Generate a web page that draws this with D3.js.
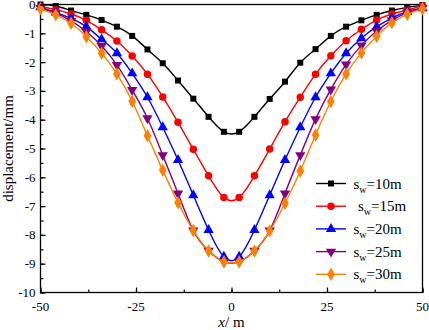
<!DOCTYPE html>
<meta charset="utf-8">
<body style="margin:0;background-color:white;">
<svg width="429" height="330"></svg>
<script src="https://cdn.jsdelivr.net/npm/d3@7"></script>
<script>

// x positions of the measuring points (m)
var xs = [-50, -46, -42, -38, -34, -30, -26, -22, -18, -14, -10, -6, -2,
          2, 6, 10, 14, 18, 22, 26, 30, 34, 38, 42, 46, 50];

// displacement (mm) for each well depth
var sw10 = [0, -0.05, -0.21, -0.36, -0.54, -0.77, -1.09, -1.56, -2.04, -2.64, -3.27, -3.9, -4.42,
            -4.42, -3.9, -3.28, -2.68, -2.02, -1.55, -1.09, -0.77, -0.55, -0.36, -0.21, -0.1, -0.02];
var sw15 = [-0.07, -0.18, -0.33, -0.55, -0.88, -1.27, -1.79, -2.42, -3.21, -4.09, -5.03, -5.95, -6.7,
            -6.7, -5.95, -5.02, -4.07, -3.22, -2.42, -1.78, -1.26, -0.86, -0.54, -0.33, -0.19, -0.05];
var sw20 = [-0.1, -0.28, -0.48, -0.77, -1.21, -1.69, -2.39, -3.22, -4.26, -5.4, -6.62, -7.83, -8.76,
            -8.76, -7.83, -6.62, -5.4, -4.26, -3.22, -2.39, -1.69, -1.17, -0.77, -0.47, -0.25, -0.13];
var sw25 = [-0.12, -0.3, -0.57, -0.94, -1.44, -2.1, -2.97, -3.95, -5.23, -6.56, -7.85, -8.55, -8.93,
            -8.93, -8.55, -7.85, -6.56, -5.23, -3.98, -2.95, -2.08, -1.42, -0.92, -0.55, -0.28, -0.12];
var sw30 = [-0.15, -0.36, -0.65, -1.12, -1.69, -2.41, -3.36, -4.56, -5.75, -6.88, -7.85, -8.56, -8.93,
            -8.93, -8.56, -7.86, -6.9, -5.78, -4.53, -3.37, -2.41, -1.68, -1.1, -0.63, -0.34, -0.15];

var seriesNames = ["10m", "15m", "20m", "25m", "30m"];
var seriesVals = [sw10, sw15, sw20, sw25, sw30];
var colors = ["#000000", "#ff0000", "#0000ff", "#800080", "#ff8000"];
var symbols = [d3.symbolSquare, d3.symbolCircle, d3.symbolTriangle, d3.symbolTriangle, d3.symbolDiamond];
var symSize = [36, 44, 46, 46, 52];
var symRot = [0, 0, 0, 180, 0];

var xTicks = [-50, -25, 0, 25, 50];
var yTicks = [0, -1, -2, -3, -4, -5, -6, -7, -8, -9, -10];

var svg = d3.select("svg");
var pLeft = 40.5, pRight = 422.5, pTop = 4.5, pBottom = 292.5;

var x = d3.scaleLinear().domain([-50, 50]).range([pLeft, pRight]);
var y = d3.scaleLinear().domain([-10, 0]).range([pBottom, pTop]);

var font = "'Liberation Serif', 'Times New Roman', serif";

// frame
svg.append("rect")
   .attr("x", pLeft).attr("y", pTop)
   .attr("width", pRight - pLeft).attr("height", pBottom - pTop)
   .attr("fill", "none").attr("stroke", "#000").attr("stroke-width", 1.3);

var plot = svg.append("g");

var line = d3.line()
             .x(function(d) { return x(d[0]); })
             .y(function(d) { return y(d[1]); })
             .curve(d3.curveNatural);

seriesVals.forEach(function(vals, i) {
	var pts = xs.map(function(v, k) { return [v, vals[k]]; });
	plot.append("path")
	    .attr("d", line(pts))
	    .attr("fill", "none")
	    .attr("stroke", colors[i])
	    .attr("stroke-width", 1.4);
	var sym = d3.symbol().type(symbols[i]).size(symSize[i]);
	plot.selectAll(null).data(pts).enter().append("path")
	    .attr("d", sym)
	    .attr("fill", colors[i])
	    .attr("transform", function(d) {
	    	return "translate(" + x(d[0]) + "," + y(d[1]) + ")rotate(" + symRot[i] + ")";
	    });
});

// y axis (ticks inside)
var yAxis = svg.append("g").attr("transform", "translate(" + pLeft + ",0)");
yAxis.call(d3.axisRight(y).tickValues(d3.range(-10, 0.01, 0.5)).tickSize(3).tickFormat(""));
yAxis.selectAll(".domain").remove();
var yMajor = svg.append("g").attr("transform", "translate(" + pLeft + ",0)");
yMajor.call(d3.axisRight(y).tickValues(yTicks).tickSize(5).tickFormat(""));
yMajor.selectAll(".domain").remove();
svg.selectAll(".tick line").attr("stroke", "#000").attr("stroke-width", 1.2);
svg.selectAll(null).data(yTicks).enter().append("text")
   .attr("x", pLeft - 5)
   .attr("y", function(d) { return y(d) + 4.5; })
   .attr("text-anchor", "end")
   .style("font-family", font).style("font-size", "13px")
   .text(function(d) { return d === 0 ? "0" : "-" + Math.abs(d); });

// x axis (ticks inside)
var xAxis = svg.append("g").attr("transform", "translate(0," + pBottom + ")");
xAxis.call(d3.axisTop(x).tickValues(d3.range(-50, 50.01, 12.5)).tickSize(3).tickFormat(""));
xAxis.selectAll(".domain").remove();
var xMajor = svg.append("g").attr("transform", "translate(0," + pBottom + ")");
xMajor.call(d3.axisTop(x).tickValues(xTicks).tickSize(5).tickFormat(""));
xMajor.selectAll(".domain").remove();
svg.selectAll(".tick line").attr("stroke", "#000").attr("stroke-width", 1.2);
svg.selectAll(null).data(xTicks).enter().append("text")
   .attr("x", function(d) { return x(d); })
   .attr("y", pBottom + 18)
   .attr("text-anchor", "middle")
   .style("font-family", font).style("font-size", "13px")
   .text(function(d) { return d < 0 ? "-" + Math.abs(d) : d; });

// axis titles
svg.append("text")
   .attr("transform", "translate(13," + ((pTop + pBottom) / 2) + ")rotate(-90)")
   .attr("text-anchor", "middle")
   .style("font-family", font).style("font-size", "15px")
   .text("displacement/mm");

var xt = svg.append("text")
   .attr("x", x(0)).attr("y", 327)
   .attr("text-anchor", "middle")
   .style("font-family", font).style("font-size", "15px");
xt.append("tspan").style("font-style", "italic").text("x");
xt.append("tspan").text("/ m");

// legend
var legend = svg.append("g");
seriesNames.forEach(function(name, i) {
	var ly = 183.5 + i * 22.7;
	var g = legend.append("g").attr("transform", "translate(0," + ly + ")");
	g.append("line")
	 .attr("x1", 316).attr("x2", 346).attr("y1", 0).attr("y2", 0)
	 .attr("stroke", colors[i]).attr("stroke-width", 1.4);
	g.append("path")
	 .attr("d", d3.symbol().type(symbols[i]).size(symSize[i])())
	 .attr("fill", colors[i])
	 .attr("transform", "translate(331,0)rotate(" + symRot[i] + ")");
	var t = g.append("text")
	 .attr("x", i === 1 ? 358 : 353.5).attr("y", 5)
	 .style("font-family", font).style("font-size", "15px");
	t.append("tspan").text("s");
	t.append("tspan").attr("dy", 4).style("font-size", "10px").text("w");
	t.append("tspan").attr("dy", -4).text("=" + name);
});

</script>
</body>
